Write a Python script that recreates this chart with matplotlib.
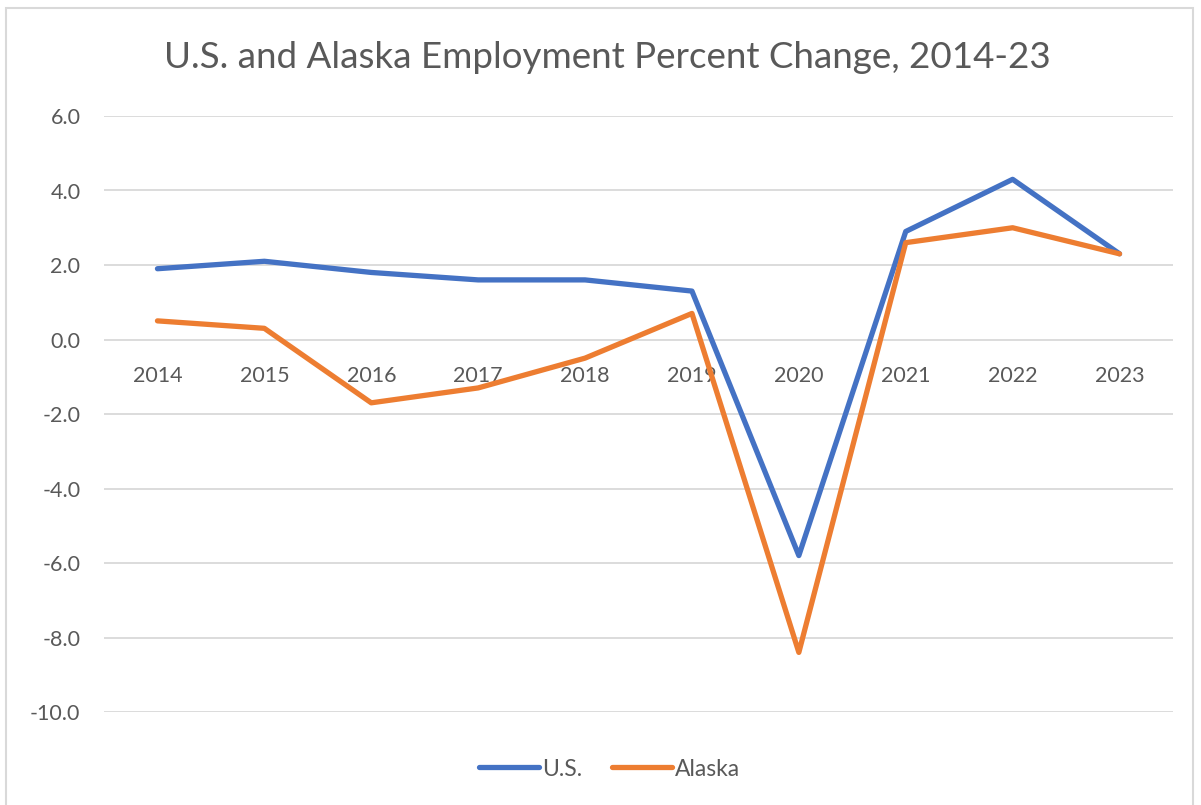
import matplotlib
matplotlib.use("Agg")
import matplotlib.pyplot as plt
from matplotlib.patches import Rectangle

years = ["2014", "2015", "2016", "2017", "2018", "2019", "2020", "2021", "2022", "2023"]
us_change = [1.9, 2.1, 1.8, 1.6, 1.6, 1.3, -5.8, 2.9, 4.3, 2.3]
alaska_change = [0.5, 0.3, -1.7, -1.3, -0.5, 0.7, -8.4, 2.6, 3.0, 2.3]
y_ticks = [6.0, 4.0, 2.0, 0.0, -2.0, -4.0, -6.0, -8.0, -10.0]

W, H = 1201, 805
plt.rcParams["font.family"] = ["Lato", "DejaVu Sans"]
text_gray = "#595959"
grid_gray = "#d9d9d9"

fig = plt.figure(figsize=(W / 100, H / 100), dpi=100)

# outer chart frame
fig.patches.append(Rectangle((6 / W, -0.01), (1193 - 6) / W, 1 - 8 / H + 0.01,
                             transform=fig.transFigure, fill=False,
                             edgecolor="#d9d9d9", linewidth=1.5))

left, right = 104 / W, 1173 / W
top, bottom = 1 - 116 / H, 1 - 712 / H
ax = fig.add_axes([left, bottom, right - left, top - bottom])

x = list(range(len(years)))
ax.plot(x, us_change, color="#4472C4", lw=3.8, solid_joinstyle="round",
        solid_capstyle="round", label="U.S.", zorder=3)
ax.plot(x, alaska_change, color="#ED7D31", lw=3.8, solid_joinstyle="round",
        solid_capstyle="round", label="Alaska", zorder=3)

ax.set_xlim(-0.5, len(years) - 0.5)
ax.set_ylim(-10, 6)
ax.set_yticks(y_ticks)
ax.set_yticklabels([f"{v:.1f}" for v in y_ticks], color=text_gray, fontsize=15.5)
ax.tick_params(axis="y", length=0, pad=17)
ax.set_xticks([])
ax.yaxis.grid(True, color=grid_gray, lw=1.3)
ax.set_axisbelow(True)
for s in ax.spines.values():
    s.set_visible(False)

# category labels sit just under the zero line
for xi, lab in zip(x, years):
    ax.annotate(lab, xy=(xi, 0), xytext=(0, -26), textcoords="offset points",
                ha="center", va="center", fontsize=15.5, color=text_gray, zorder=2)

fig.text(607 / W, 1 - 58 / H, "U.S. and Alaska Employment Percent Change, 2014-23",
         ha="center", va="center", fontsize=26.5, color=text_gray)

leg = fig.legend(loc="center", bbox_to_anchor=(610 / W, 1 - 769 / H), ncol=2,
                 frameon=False, fontsize=16.5, handlelength=2.6, handletextpad=0.15,
                 columnspacing=1.3)
for t in leg.get_texts():
    t.set_color(text_gray)

fig.savefig("out.png", dpi=100)
